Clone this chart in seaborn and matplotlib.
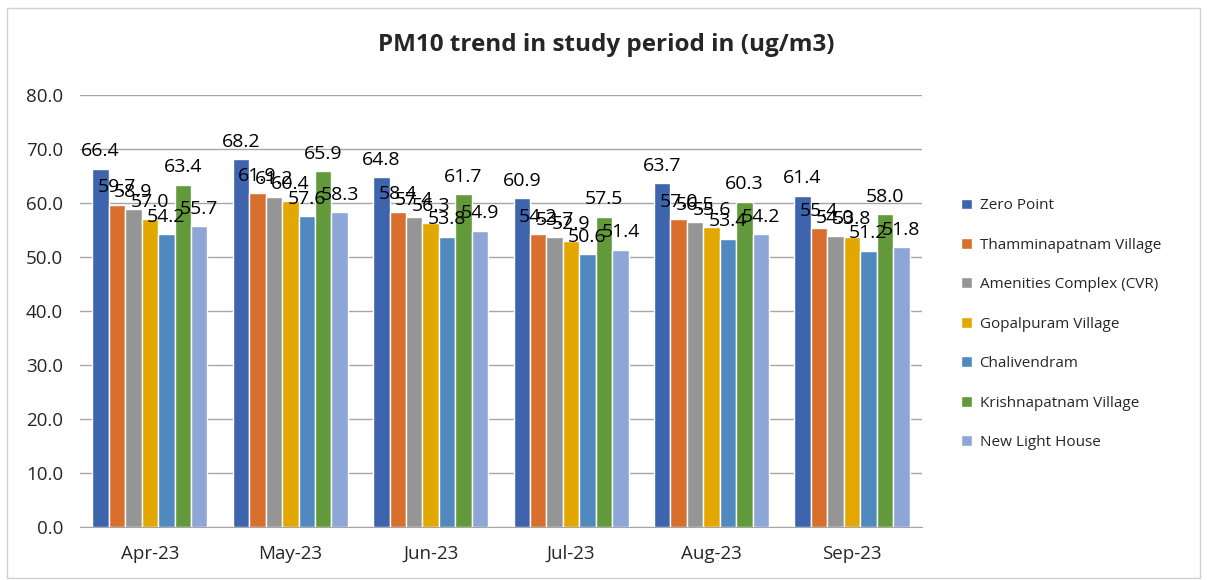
import matplotlib
matplotlib.use("Agg")
import matplotlib.pyplot as plt
import numpy as np
import pandas as pd
import seaborn as sns
from matplotlib.patches import Rectangle

months = ["Apr-23", "May-23", "Jun-23", "Jul-23", "Aug-23", "Sep-23"]
stations = [
    "Zero Point",
    "Thamminapatnam Village",
    "Amenities Complex (CVR)",
    "Gopalpuram Village",
    "Chalivendram",
    "Krishnapatnam Village",
    "New Light House",
]
zero_point = [66.4, 68.2, 64.8, 60.9, 63.7, 61.4]
thamminapatnam = [59.7, 61.9, 58.4, 54.2, 57.0, 55.4]
amenities = [58.9, 61.2, 57.4, 53.7, 56.5, 54.0]
gopalpuram = [57.0, 60.4, 56.3, 52.9, 55.6, 53.8]
chalivendram = [54.2, 57.6, 53.8, 50.6, 53.4, 51.2]
krishnapatnam = [63.4, 65.9, 61.7, 57.5, 60.3, 58.0]
new_light_house = [55.7, 58.3, 54.9, 51.4, 54.2, 51.8]

colors = ["#3E64AE", "#D86F2C", "#959595", "#E3A800", "#4F89BF", "#62993A", "#8EA6D7"]

series = [zero_point, thamminapatnam, amenities, gopalpuram, chalivendram,
          krishnapatnam, new_light_house]
rows = []
for st, vals in zip(stations, series):
    for m, v in zip(months, vals):
        rows.append({"Month": m, "Station": st, "PM10": v})
df = pd.DataFrame(rows)

sns.set_style("white")
plt.rcParams["font.family"] = ["Open Sans", "DejaVu Sans"]

fig = plt.figure(figsize=(12.07, 5.80), dpi=100)
ax = fig.add_axes([0.066, 0.091, 0.698, 0.745])

sns.barplot(data=df, x="Month", y="PM10", hue="Station", order=months,
            hue_order=stations, palette=colors, width=0.82, saturation=1,
            errorbar=None, ax=ax, zorder=3)

# labels sit a little above each bar, overlapping as in the original
for cont in ax.containers:
    ax.bar_label(cont, fmt="%.1f", fontsize=14, padding=6, color="black", zorder=5)

ax.set_ylim(0, 80)
ax.set_yticks(np.arange(0, 81, 10))
ax.set_yticklabels([f"{v:.1f}" for v in np.arange(0, 81, 10)], fontsize=13.5)
ax.tick_params(axis="x", labelsize=13.5, length=0, pad=13)
ax.tick_params(axis="y", length=0, pad=12)
ax.set_xlabel("")
ax.set_ylabel("")
ax.yaxis.grid(True, color="#A6A6A6", linewidth=1.0, zorder=0)
ax.set_axisbelow(True)
for s in ["top", "right", "left"]:
    ax.spines[s].set_visible(False)
ax.spines["bottom"].set_color("#A6A6A6")
ax.set_xlim(-0.5, len(months) - 0.5)

fig.text(0.502, 1 - 45 / 580, "PM10 trend in study period in (ug/m3)",
         ha="center", va="center", fontsize=17.5, fontweight="bold")

ax.legend(loc="center left", bbox_to_anchor=(1.03, 0.47), frameon=False,
          fontsize=11, labelspacing=1.6, handlelength=0.7, handleheight=0.7,
          handletextpad=0.5)

fig.patches.append(Rectangle((0.006, 0.004), 0.988, 0.982, transform=fig.transFigure,
                             fill=False, edgecolor="#D0D0D0", linewidth=1))

fig.savefig("out.png", dpi=100)
